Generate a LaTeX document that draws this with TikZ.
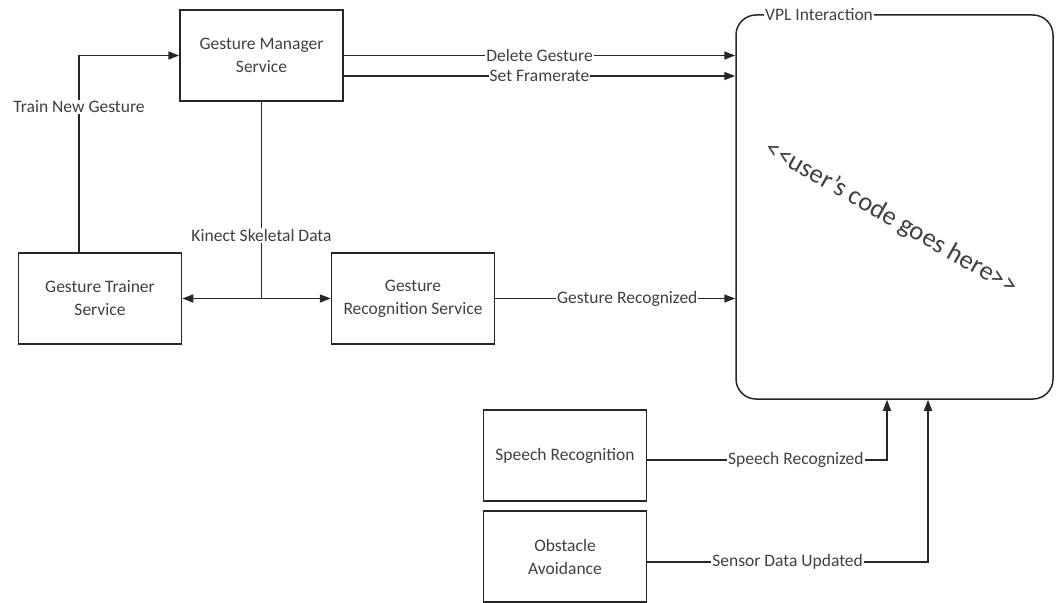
\documentclass[tikz,border=0pt]{standalone}
\usepackage{fontspec}
\setmainfont{Carlito}
\usetikzlibrary{arrows.meta}
\begin{document}
\begin{tikzpicture}[x=1pt,y=-1pt,
  txt/.style={text=black!75, font=\fontsize{17.5}{23}\selectfont},
  box/.style={draw=black!85, line width=1.5pt, txt, align=center,
              minimum width=163pt, minimum height=91pt, inner sep=0pt},
  link/.style={draw=black!85, line width=1.5pt},
  arr/.style={link, -{Triangle[length=11pt,width=8pt]}},
  lbl/.style={txt, fill=white, inner xsep=1pt, inner ysep=1pt}]
\useasboundingbox (0,0) rectangle (1056,602);

% services
\node[box] (gm) at (261.5,55.5) {Gesture Manager\\Service};
\node[box] (gt) at (100,298.5) {Gesture Trainer\\Service};
\node[box] (gr) at (413,298.5) {Gesture\\Recognition Service};
\node[box] (sr) at (565,455.5) {Speech Recognition};
\node[box] (oa) at (565,556.5) {Obstacle\\Avoidance};

% VPL container
\node[draw=black!85, line width=1.5pt, rounded corners=20pt,
      minimum width=317pt, minimum height=384pt] (vpl) at (894.5,207) {};
\node[lbl] (vpltitle) at (819,15) {VPL Interaction};
\node[txt, font=\fontsize{26.5}{30}\selectfont, rotate=-29.6] (code)
  at (891,218) {{<}{<}user’s code goes here{>}{>}};

% connectors
\coordinate (tc) at (79,0);
\coordinate (sx) at (887,0);
\coordinate (ox) at (928,0);
\draw[arr] (gt.north -| tc) |- node[lbl,pos=0.37] {Train New Gesture} (gm.west);
\draw[arr] (gm.east) -- node[lbl] {Delete Gesture} (gm.east -| vpl.west);
\draw[arr] ([yshift=-20.5pt]gm.east) -- node[lbl] {Set Framerate}
  ([yshift=-20.5pt]gm.east -| vpl.west);

\coordinate (j) at (gm.south |- gt.east);
\draw[link] (gm.south) -- node[lbl,pos=0.68] {Kinect Skeletal Data} (j);
\draw[arr] (j) -- (gt.east);
\draw[arr] (j) -- (gr.west);
\draw[arr] (gr.east) -- node[lbl,pos=0.55] {Gesture Recognized} (gr.east -| vpl.west);

\draw[arr] ([yshift=-4.5pt]sr.east) -| node[lbl,pos=0.31] {Speech Recognized} (sx |- vpl.south);
\draw[arr] ([yshift=-5.5pt]oa.east) -| node[lbl,pos=0.25] {Sensor Data Updated} (ox |- vpl.south);
\end{tikzpicture}
\end{document}
